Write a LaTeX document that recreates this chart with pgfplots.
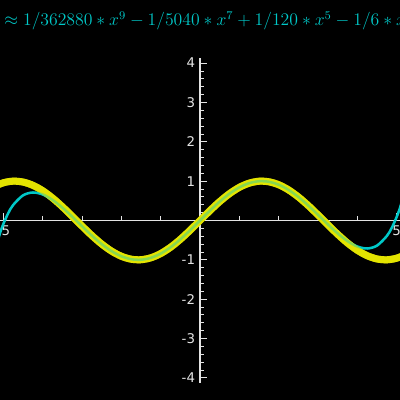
\documentclass[border=0pt]{standalone}
\usepackage{fontspec}
\setmainfont{DejaVu Sans}
\usepackage{graphicx}
\usepackage{pgfplots}
\usepackage{pgfplotstable}
\pgfplotsset{compat=1.18}

\definecolor{sinyellow}{RGB}{228,228,0}
\definecolor{polycyan}{RGB}{0,200,200}
\definecolor{axisgray}{RGB}{228,228,228}

% sin(x)
\pgfplotstableread{
x y
-5.25 0.8589
-5.0 0.9589
-4.75 0.9993
-4.5 0.9775
-4.25 0.8950
-4.0 0.7568
-3.75 0.5716
-3.5 0.3508
-3.25 0.1082
-3.0 -0.1411
-2.75 -0.3817
-2.5 -0.5985
-2.25 -0.7781
-2.0 -0.9093
-1.75 -0.9840
-1.5 -0.9975
-1.25 -0.9490
-1.0 -0.8415
-0.75 -0.6816
-0.5 -0.4794
-0.25 -0.2474
0 0
0.25 0.2474
0.5 0.4794
0.75 0.6816
1.0 0.8415
1.25 0.9490
1.5 0.9975
1.75 0.9840
2.0 0.9093
2.25 0.7781
2.5 0.5985
2.75 0.3817
3.0 0.1411
3.25 -0.1082
3.5 -0.3508
3.75 -0.5716
4.0 -0.7568
4.25 -0.8950
4.5 -0.9775
4.75 -0.9993
5.0 -0.9589
5.25 -0.8589
}\sindata

% degree 9 Taylor polynomial
\pgfplotstableread{
x y
-5.25 -0.9075
-5.1 -0.3701
-5.0 -0.0897
-4.875 0.1877
-4.75 0.3942
-4.5 0.6391
-4.25 0.7117
-4.0 0.6618
-3.75 0.5244
-3.5 0.3284
-3.25 0.0983
-3.0 -0.1453
-2.75 -0.3833
-2.5 -0.5991
-2.25 -0.7783
-2.0 -0.9094
-1.75 -0.9840
-1.5 -0.9975
-1.25 -0.9490
-1.0 -0.8415
-0.75 -0.6816
-0.5 -0.4794
-0.25 -0.2474
0 0
0.25 0.2474
0.5 0.4794
0.75 0.6816
1.0 0.8415
1.25 0.9490
1.5 0.9975
1.75 0.9840
2.0 0.9094
2.25 0.7783
2.5 0.5991
2.75 0.3833
3.0 0.1453
3.25 -0.0983
3.5 -0.3284
3.75 -0.5244
4.0 -0.6618
4.25 -0.7117
4.5 -0.6391
4.75 -0.3942
4.875 -0.1877
5.0 0.0897
5.1 0.3701
5.25 0.9075
}\polydata

\begin{document}
\begin{tikzpicture}
\path[use as bounding box] (0,0) rectangle (10cm,10cm);
\clip (0,0) rectangle (10cm,10cm);
\fill[black] (0,0) rectangle (10cm,10cm);
\begin{axis}[
    at={(0,0)}, anchor=south west,
    scale only axis,
    width=10cm, height=10cm,
    xmin=-5.085, xmax=5.085,
    ymin=-4.563, ymax=5.605,
    axis lines=middle,
    axis line style={axisgray, line width=0.9pt, -},
    y axis line style={draw=none},
    tick align=inside,
    tick style={axisgray, line width=0.6pt},
    major tick length=0.175cm,
    minor tick length=0.1cm,
    xtick={-5,5},
    xticklabels={-5,5},
    minor xtick={-4,-3,-2,-1,1,2,3,4},
    ytick={-4,-3,-2,-1,1,2,3,4},
    yticklabels={-4,-3,-2,-1,1,2,3,4},
    minor ytick={-4,-3.8,...,4},
    ticklabel style={text=axisgray, font=\fontsize{9.5}{11}\selectfont},
    title={\scalebox{1.05}{$\sin(x) \approx 1/362880 \ast x^{9} - 1/5040 \ast x^{7} + 1/120 \ast x^{5} - 1/6 \ast x^{3} + x$}},
    title style={at={(0.4937,0.915)}, anchor=base, text=polycyan, font=\fontsize{12}{14}\selectfont},
]
\draw[axisgray, line width=0.9pt] (axis cs:0,-4.13) -- (axis cs:0,4.13);
\addplot[sinyellow, line width=5pt, smooth] table {\sindata};
\addplot[polycyan, line width=1.8pt, smooth] table {\polydata};
\addplot[sinyellow, line width=5pt, smooth, opacity=0.6] table {\sindata};
\end{axis}
\end{tikzpicture}
\end{document}
